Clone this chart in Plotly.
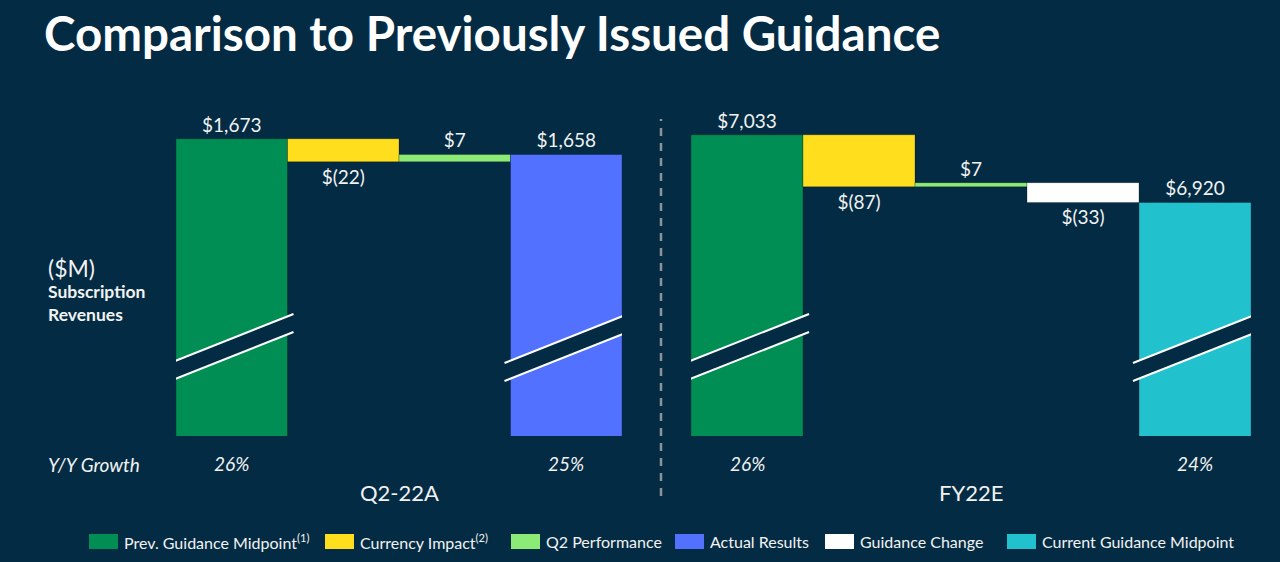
import plotly.graph_objects as go

# ---------------- data ----------------
q2_categories = ["Prev. Guidance Midpoint", "Currency Impact", "Q2 Performance", "Actual Results"]
q2_values = [1673, -22, 7, 1658]
q2_growth = ["26%", "25%"]
q2_label = "Q2-22A"

fy_categories = ["Prev. Guidance Midpoint", "Currency Impact", "Q2 Performance",
                 "Guidance Change", "Current Guidance Midpoint"]
fy_values = [7033, -87, 7, -33, 6920]
fy_growth = ["26%", "24%"]
fy_label = "FY22E"

legend_order = ["Prev. Guidance Midpoint", "Currency Impact", "Q2 Performance",
                "Actual Results", "Guidance Change", "Current Guidance Midpoint"]
legend_names = {
    "Prev. Guidance Midpoint": "Prev. Guidance Midpoint<sup>(1)</sup>",
    "Currency Impact": "Currency Impact<sup>(2)</sup>",
    "Q2 Performance": "Q2 Performance",
    "Actual Results": "Actual Results",
    "Guidance Change": "Guidance Change",
    "Current Guidance Midpoint": "Current Guidance Midpoint",
}
colors = {
    "Prev. Guidance Midpoint": "#008E54",
    "Currency Impact": "#FFDE1E",
    "Q2 Performance": "#8BEB76",
    "Actual Results": "#5271FF",
    "Guidance Change": "#FFFFFF",
    "Current Guidance Midpoint": "#22C1CE",
}

BG = "#032B43"
FONT = "Lato"
TXT = "#F2F2F2"
W, H = 1280, 562


def px_x(p):
    return p / W


def px_y(p):
    return 1 - p / H


def fmt(v):
    return f"${v:,}" if v >= 0 else f"$({abs(v)})"


fig = go.Figure()
panels = [
    ("x", "y", q2_categories, q2_values),
    ("x2", "y2", fy_categories, fy_values),
]
for xa, ya, cats, vals in panels:
    running = 0
    n = len(vals)
    for i, (c, v) in enumerate(zip(cats, vals)):
        if i == 0 or i == n - 1:
            base = 0
            running = v
        else:
            base = running
            running += v
        fig.add_trace(go.Bar(
            x=[i], y=[v], base=[base], width=[1],
            xaxis=xa, yaxis=ya,
            name=c, legendgroup=c, showlegend=False,
            marker=dict(color=colors[c], line=dict(color="rgba(0,0,0,0.25)", width=1)),
            text=[fmt(v)], textposition="outside", cliponaxis=False,
            constraintext="none",
            textfont=dict(family=FONT, size=19, color=TXT),
            hoverinfo="skip",
        ))

shapes = []
# axis break marks on the total bars
for xa, n in (("x", len(q2_values)), ("x2", len(fy_values))):
    for p in (0, n - 1):
        l, r = p - 0.554, p + 0.554
        shapes.append(dict(
            type="path", xref=xa, yref="paper", layer="above",
            path=f"M {l},{px_y(363)} L {r},{px_y(314)} L {r},{px_y(332)} L {l},{px_y(381)} Z",
            fillcolor=BG, line=dict(width=0)))
        for y_l, y_r in ((363, 314), (381, 332)):
            shapes.append(dict(
                type="line", xref=xa, yref="paper", layer="above",
                x0=l, y0=px_y(y_l), x1=r, y1=px_y(y_r),
                line=dict(color="#FFFFFF", width=2)))

# dashed divider
shapes.append(dict(type="line", xref="paper", yref="paper",
                   x0=px_x(661), x1=px_x(661), y0=px_y(496), y1=px_y(119),
                   line=dict(color="#8C9398", width=2.5, dash="8px,7px")))

annotations = [
    dict(text="($M)", x=px_x(46), y=px_y(268), xanchor="left", yanchor="middle",
         font=dict(family=FONT, size=23, color=TXT)),
    dict(text="<b>Subscription<br>Revenues</b>", x=px_x(46), y=px_y(303), xanchor="left",
         yanchor="middle", align="left", font=dict(family=FONT, size=17.5, color=TXT)),
    dict(text="<i>Y/Y Growth</i>", x=px_x(46), y=px_y(465), xanchor="left", yanchor="middle",
         font=dict(family=FONT, size=19, color=TXT)),
]
for xa, n, growth, label in (("x", len(q2_values), q2_growth, q2_label),
                             ("x2", len(fy_values), fy_growth, fy_label)):
    for p, g in zip((0, n - 1), growth):
        annotations.append(dict(text=f"<i>{g}</i>", x=p, xref=xa, y=px_y(463), yref="paper",
                                showarrow=False, yanchor="middle",
                                font=dict(family=FONT, size=19, color=TXT)))
    annotations.append(dict(text=label, x=(n - 1) / 2, xref=xa, y=px_y(492), yref="paper",
                            showarrow=False, yanchor="middle",
                            font=dict(family=FONT, size=22, color=TXT)))

# legend (swatches + labels) along the bottom
legend_x = [89, 325, 511, 675, 825, 1007]
for lx, c in zip(legend_x, legend_order):
    shapes.append(dict(type="rect", xref="paper", yref="paper",
                       x0=px_x(lx), x1=px_x(lx + 29), y0=px_y(549), y1=px_y(534),
                       fillcolor=colors[c], line=dict(width=0)))
    annotations.append(dict(text=legend_names[c], x=px_x(lx + 33), y=px_y(541),
                            xanchor="left", yanchor="middle",
                            font=dict(family=FONT, size=16, color=TXT)))

for a in annotations:
    a.setdefault("xref", "paper")
    a.setdefault("yref", "paper")
    a.setdefault("showarrow", False)

ydom = [px_y(436), px_y(100)]
fig.update_layout(
    width=W, height=H,
    paper_bgcolor=BG, plot_bgcolor=BG,
    margin=dict(l=0, r=0, t=0, b=0),
    barmode="overlay",
    showlegend=False,
    title=dict(text="<b>Comparison to Previously Issued Guidance</b>",
               x=px_x(44), xanchor="left", y=px_y(34), yanchor="middle",
               font=dict(family=FONT, size=47.5, color="#FFFFFF")),
    xaxis=dict(domain=[px_x(176), px_x(622)], range=[-0.5, 3.5], visible=False),
    yaxis=dict(domain=ydom, range=[1389, 1710], visible=False),
    xaxis2=dict(domain=[px_x(691), px_x(1251)], range=[-0.5, 4.5], visible=False, anchor="y2"),
    yaxis2=dict(domain=ydom, range=[6530, 7091], visible=False, anchor="x2"),
    shapes=shapes,
    annotations=annotations,
)

fig.write_html("out.html", config={"displayModeBar": False},
               post_script="document.body.style.margin='0px';document.body.style.overflow='hidden';")
